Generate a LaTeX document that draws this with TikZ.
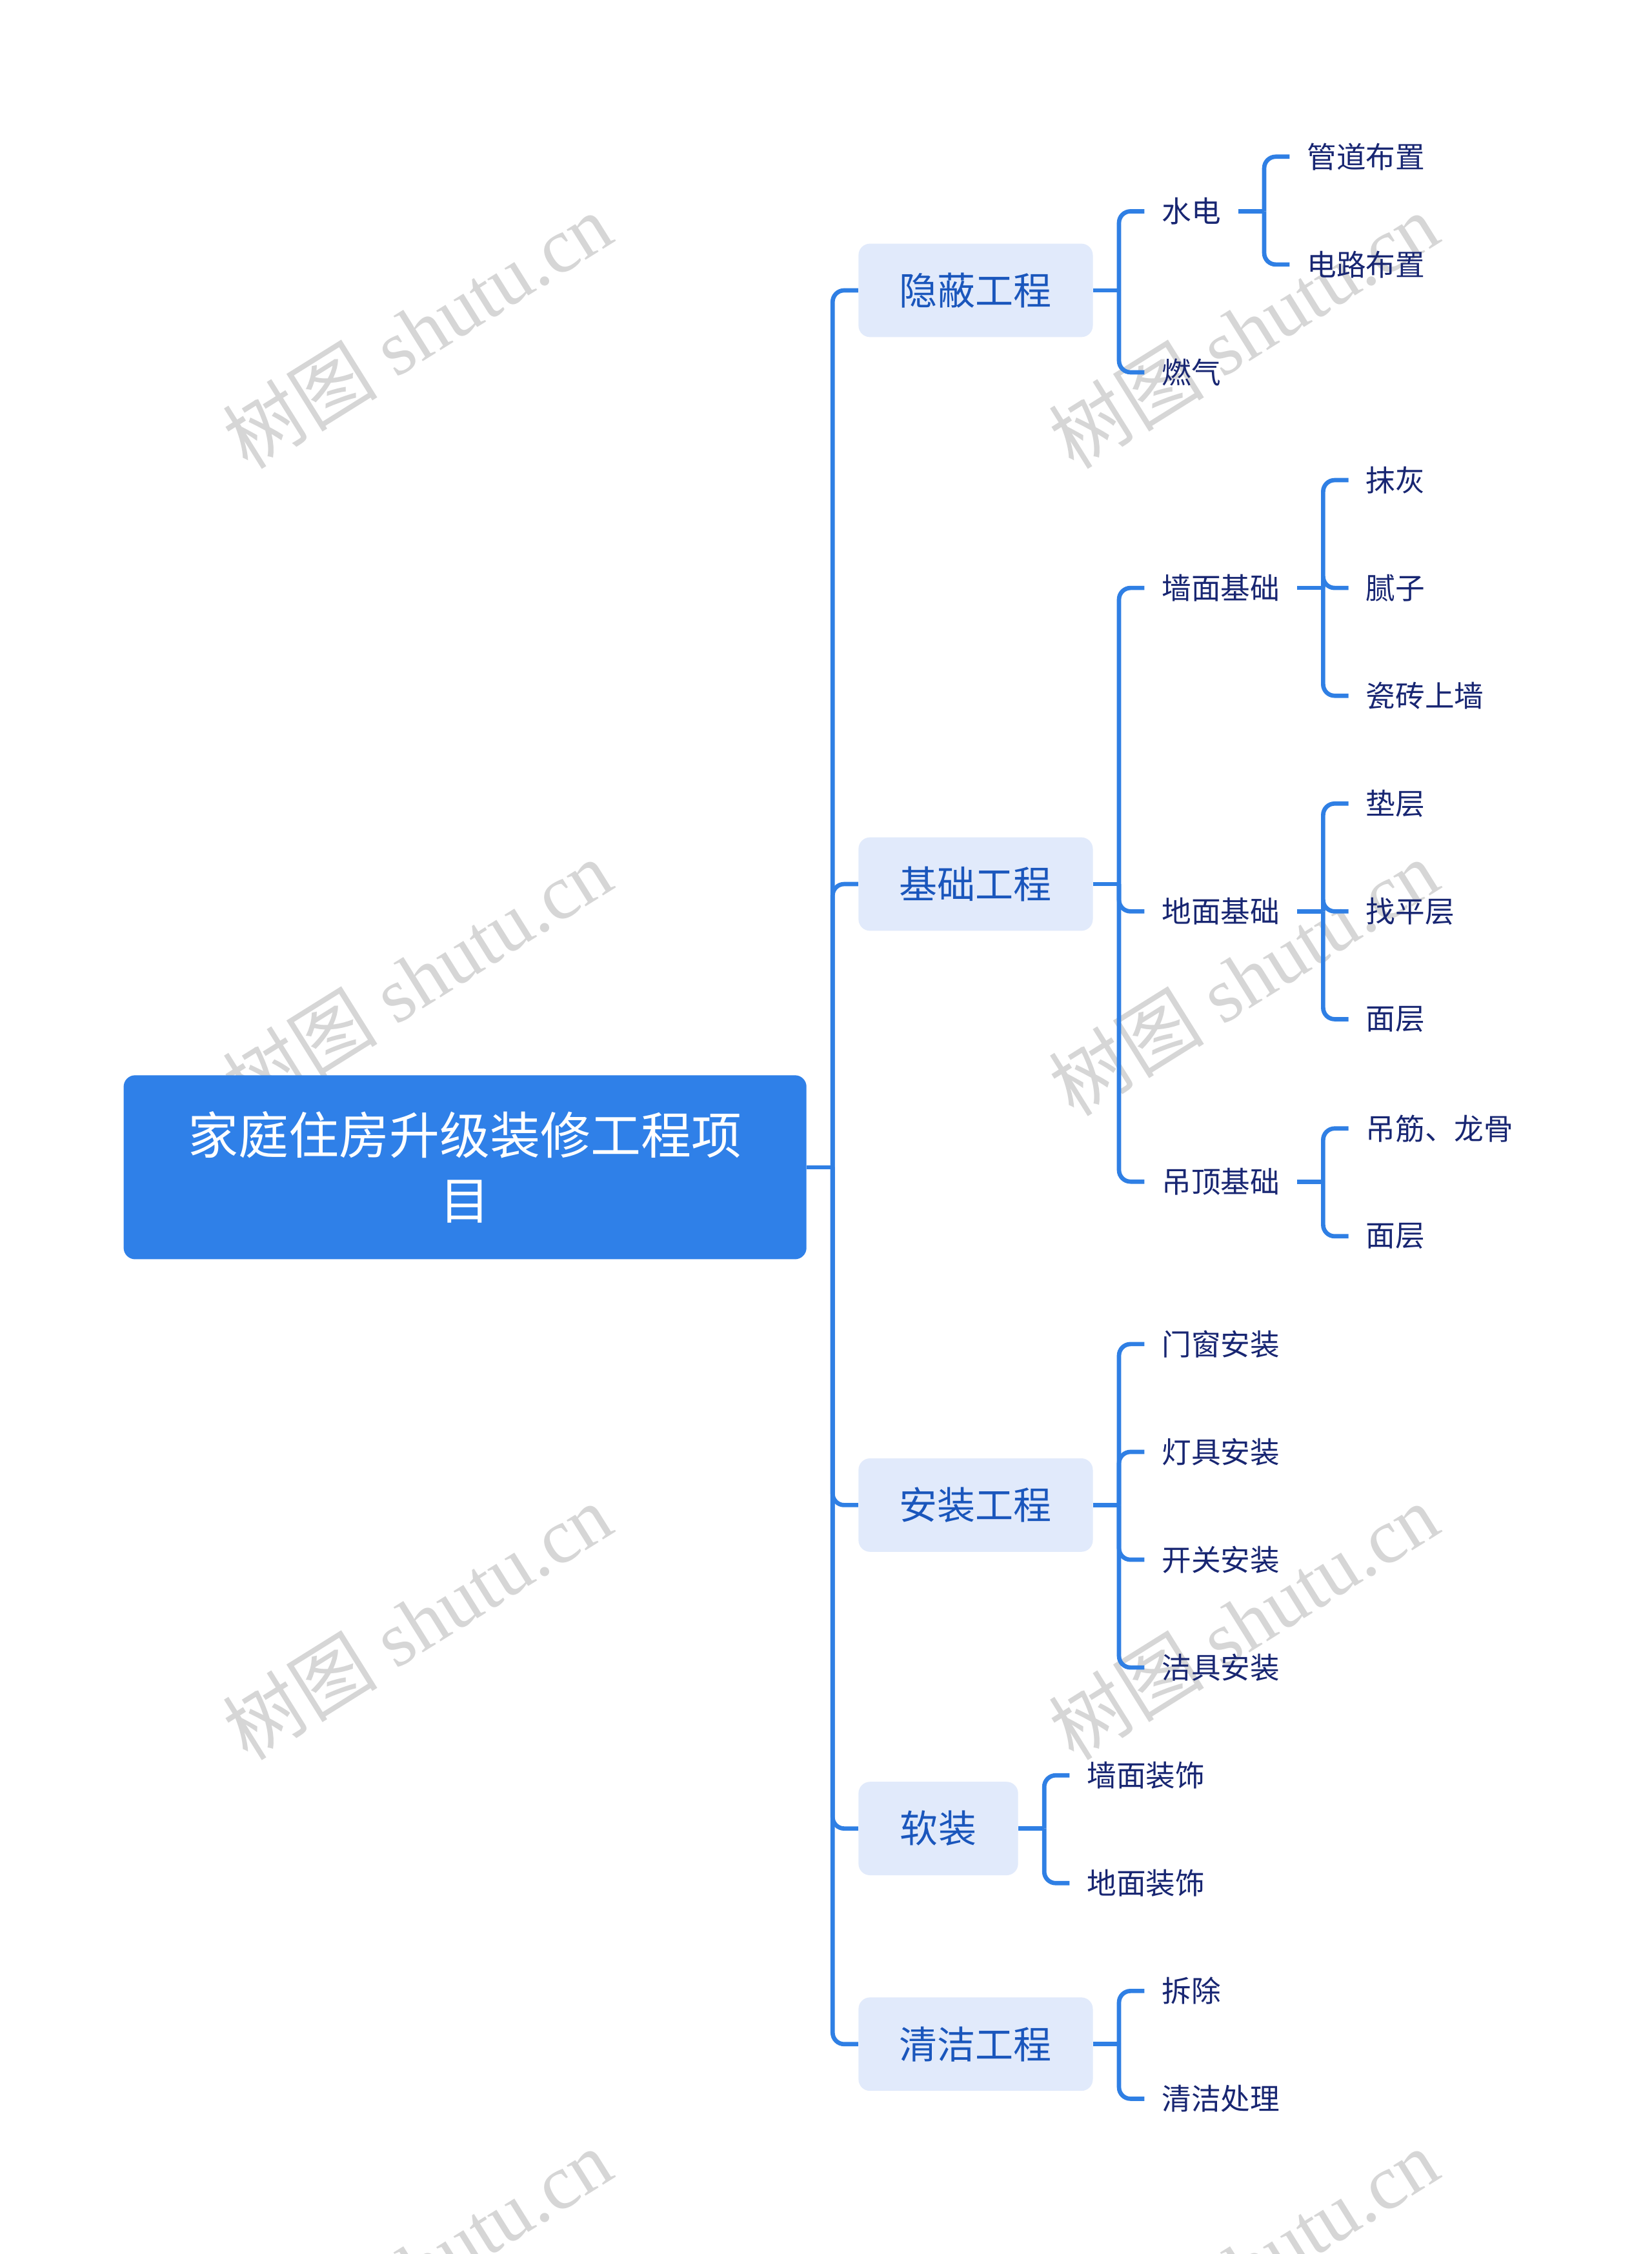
\documentclass[tikz,border=0pt]{standalone}
\usepackage{fontspec}
\setmainfont{Noto Sans CJK SC}
\newfontfamily\wmserif{Liberation Serif}
\newfontfamily\cjkfont{Noto Sans CJK SC}
\definecolor{lineblue}{HTML}{2F7FE4}
\definecolor{rootblue}{HTML}{2F80E8}
\definecolor{branchfill}{HTML}{E1EAFB}
\definecolor{branchtext}{HTML}{1A56BC}
\definecolor{leaftext}{HTML}{182672}
\definecolor{wmgray}{HTML}{D6D6D6}
\tikzset{
  rootbox/.style={fill=rootblue, rounded corners=8pt, text=white,
    font=\fontsize{35}{45}\selectfont, align=center,
    minimum width=475pt, minimum height=128pt, inner sep=0pt},
  branchbox/.style={fill=branchfill, rounded corners=8pt, text=branchtext,
    font=\fontsize{26.5}{30}\selectfont, minimum height=65pt,
    inner sep=0pt, anchor=west},
  leaf/.style={text=leaftext, font=\fontsize{20.5}{24}\selectfont,
    inner xsep=12pt, inner ysep=2pt, anchor=west},
  conn/.style={draw=lineblue, line width=3pt},
  wm/.style={text=wmgray, font=\wmserif\fontsize{54}{60}\selectfont,
    inner sep=0pt, rotate=32}
}
\begin{document}
\begin{tikzpicture}[x=1pt,y=-1pt]
\useasboundingbox (0,0) rectangle (1149,1568);
\fill[white] (0,0) rectangle (1149,1568);
% watermarks
\foreach \wx in {290,865}{
  \foreach \wy in {230,680,1128,1577}{
    \node[wm] at (\wx,\wy) {{\cjkfont 树图} shutu.cn};
  }
}
% root
\node[rootbox] (root) at (323.5,812) {家庭住房升级装修工程项\\目};
% branches
\node[branchbox, minimum width=163pt] (b1) at (597,202) {隐蔽工程};
\node[branchbox, minimum width=163pt] (b2) at (597,615) {基础工程};
\node[branchbox, minimum width=163pt] (b3) at (597,1047) {安装工程};
\node[branchbox, minimum width=111pt] (b4) at (597,1272) {软装};
\node[branchbox, minimum width=163pt] (b5) at (597,1422) {清洁工程};
% level 2
\node[leaf] (c11) at (796,147) {水电};
\node[leaf] (c12) at (796,259) {燃气};
\node[leaf] (c111) at (897,109) {管道布置};
\node[leaf] (c112) at (897,184) {电路布置};
\node[leaf] (c21) at (796,409) {墙面基础};
\node[leaf] (c22) at (796,634) {地面基础};
\node[leaf] (c23) at (796,822) {吊顶基础};
\node[leaf] (c211) at (938,334) {抹灰};
\node[leaf] (c212) at (938,409) {腻子};
\node[leaf] (c213) at (938,484) {瓷砖上墙};
\node[leaf] (c221) at (938,559) {垫层};
\node[leaf] (c222) at (938,634) {找平层};
\node[leaf] (c223) at (938,709) {面层};
\node[leaf] (c231) at (938,785) {吊筋、龙骨};
\node[leaf] (c232) at (938,860) {面层};
\node[leaf] (c31) at (796,935) {门窗安装};
\node[leaf] (c32) at (796,1010) {灯具安装};
\node[leaf] (c33) at (796,1085) {开关安装};
\node[leaf] (c34) at (796,1160) {洁具安装};
\node[leaf] (c41) at (744,1235) {墙面装饰};
\node[leaf] (c42) at (744,1310) {地面装饰};
\node[leaf] (c51) at (796,1385) {拆除};
\node[leaf] (c52) at (796,1460) {清洁处理};
% connectors
\foreach \p/\c in {root/b1,root/b2,root/b3,root/b4,root/b5,
  b1/c11,b1/c12,c11/c111,c11/c112,
  b2/c21,b2/c22,b2/c23,c21/c211,c21/c212,c21/c213,
  c22/c221,c22/c222,c22/c223,c23/c231,c23/c232,
  b3/c31,b3/c32,b3/c33,b3/c34,b4/c41,b4/c42,b5/c51,b5/c52}{
  \draw[conn] (\p.east) -- ([xshift=18pt]\p.east);
  \draw[conn, rounded corners=8pt] ([xshift=18pt]\p.east) |- (\c.west);
}
\end{tikzpicture}
\end{document}
